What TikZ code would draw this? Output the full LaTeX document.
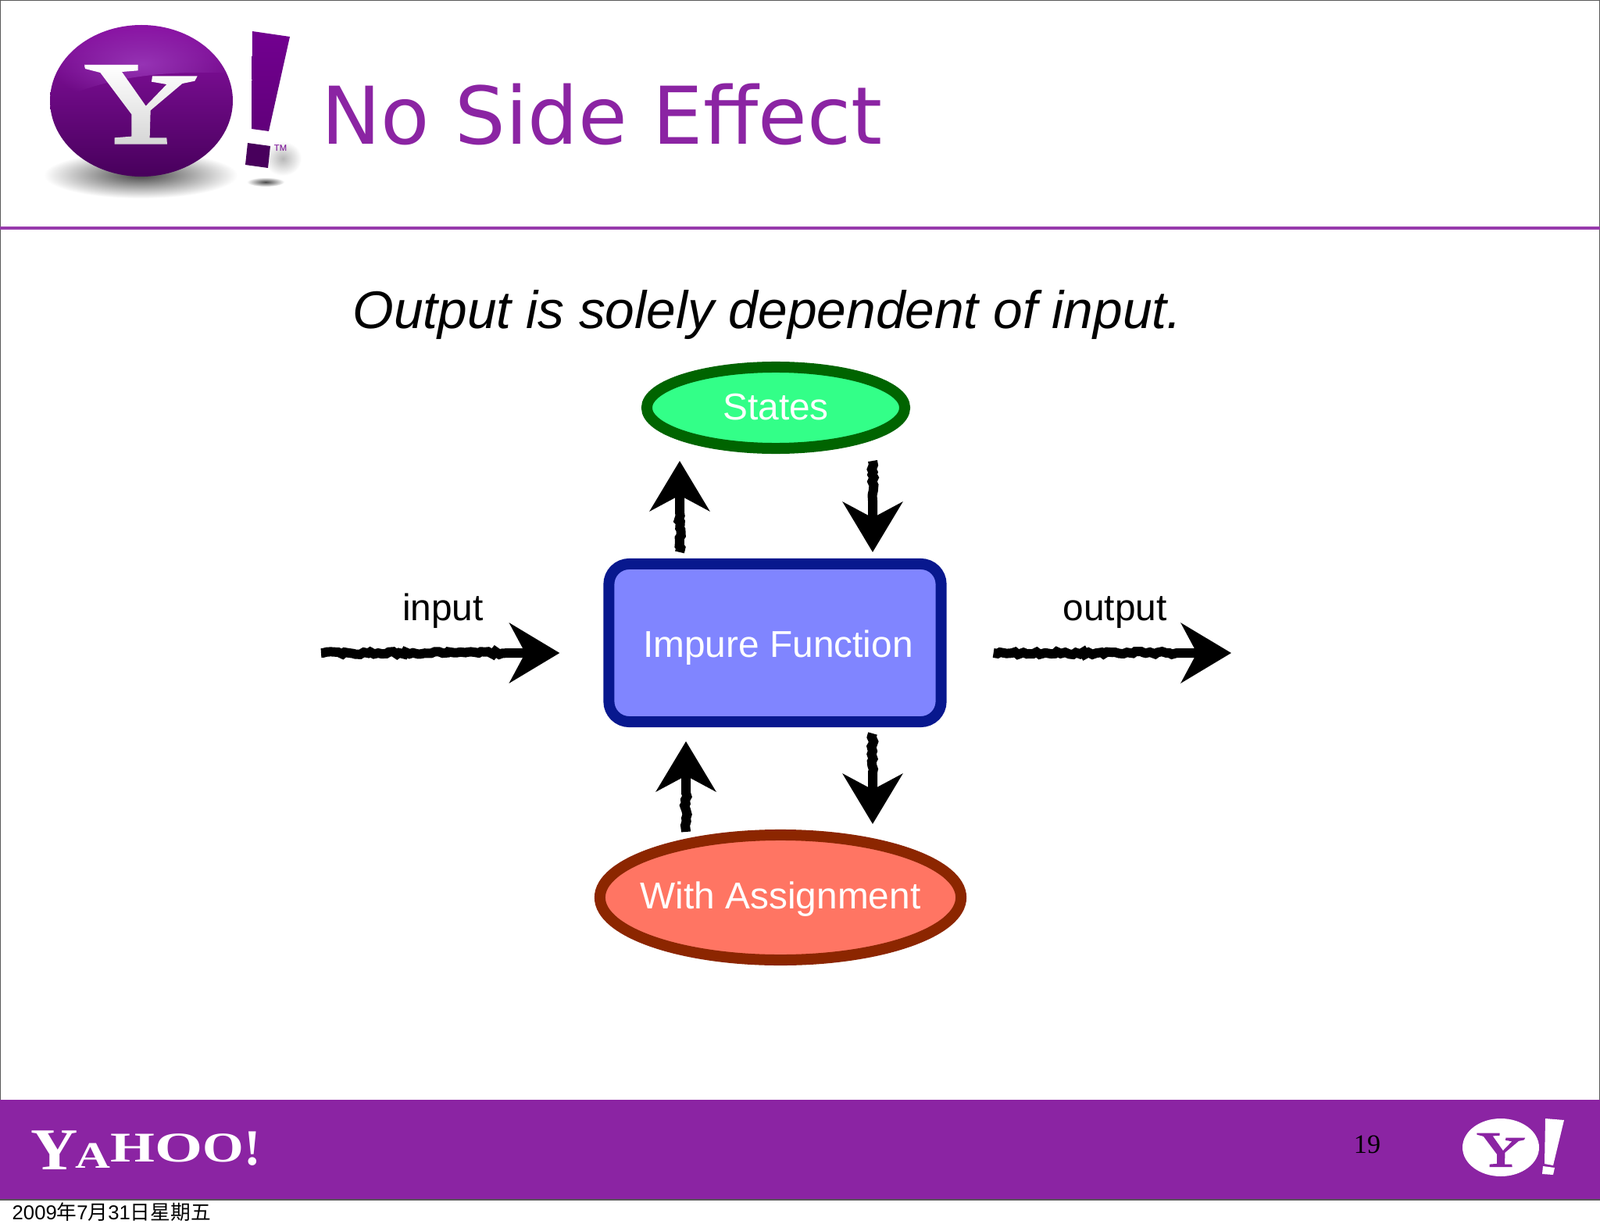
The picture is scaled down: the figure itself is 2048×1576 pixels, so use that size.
\documentclass[tikz,border=0pt]{standalone}
\usepackage{fontspec}
\setmainfont{Liberation Sans}
\newfontfamily\titlefont{DejaVu Sans}
\newfontfamily\seriffont{Liberation Serif}
\newfontfamily\cjk{Noto Sans CJK SC}
\usetikzlibrary{calc}
\usetikzlibrary{shapes.geometric}
\usetikzlibrary{arrows.meta}
\usetikzlibrary{decorations.pathmorphing}
\usetikzlibrary{fadings}
\definecolor{yahoo}{HTML}{8B24A3}
\definecolor{balltop}{HTML}{8A12A4}
\definecolor{ballmid}{HTML}{720090}
\definecolor{ballbottom}{HTML}{48005C}
\definecolor{ballglow}{HTML}{A040C0}
\definecolor{statesfill}{HTML}{33FF88}
\definecolor{statesline}{HTML}{006400}
\definecolor{funcfill}{HTML}{8085FF}
\definecolor{funcline}{HTML}{08188E}
\definecolor{assignfill}{HTML}{FF7563}
\definecolor{assignline}{HTML}{8C2600}
\tikzfading[name=glowfade,inner color=transparent!25,outer color=transparent!100]
\tikzset{
    bodytext/.style={font=\fontsize{13.6}{16}\selectfont},
    boxnode/.style={inner sep=0pt,line width=.14cm,text=white,text height=0pt,text depth=0pt,bodytext},
    roughline/.style={line width=.12cm,-{Stealth[length=.64cm,width=.76cm,inset=.2cm]},
        decorate,decoration={random steps,segment length=1.3pt,amplitude=.55pt,post length=.66cm}},
    shadowblob/.style={shade,inner color=black!72,outer color=white},
}
\newcommand{\yshape}{(-215,-150) -- (-10,-150) -- (-10,-128) -- (-72,-123) -- (20,8) -- (100,-75)
    -- (42,-85) -- (45,-107) -- (218,-107) -- (208,-88) -- (160,-78) -- (38,25) -- (35,130)
    -- (100,130) -- (102,155) -- (-100,155) -- (-100,130) -- (-35,125) -- (-35,40) -- (-155,-120)
    -- (-213,-135) -- cycle}
\newcommand{\wordletter}[4]{\raisebox{#3cm}{\fontsize{#1}{#1}\selectfont\addfontfeature{FakeStretch=#2}#4}}
\newcommand{\boxtext}[3]{\raisebox{#1cm}{\makebox[0pt]{\kern#2cm #3}}}
\begin{document}
\begin{tikzpicture}[x=0.01cm,y=-0.01cm]
            \useasboundingbox (0,0) rectangle (2048,1576);
            \fill[white] (0,0) rectangle (2048,1576);
            \draw[black!65,line width=.02cm] (0,0) rectangle (2048,1536);
            \fill[yahoo] (0,1408) rectangle (2048,1535);
            \fill[yahoo!90!white] (0,290) rectangle (2048,294);

            \shade[shadowblob] (180,224) ellipse (124 and 30);
            \shade[shadowblob] (340,233) ellipse (24 and 6);
            \shade[inner color=black!28,outer color=white] (362,203) ellipse (24 and 22);
            \shade[top color=balltop,middle color=ballmid,bottom color=ballbottom] (181,129) ellipse (117 and 97);
            \begin{scope}
                \clip (181,129) ellipse (117 and 97);
                \fill[ballglow,path fading=glowfade] (64,134) .. controls (115,105) and (185,93) .. (253,93)
                    -- (300,93) -- (300,30) -- (64,30) -- cycle;
            \end{scope}
            \begin{scope}[shift={(180,133)},scale=1/3]
                \shade[top color=white,bottom color=black!16] \yshape;
            \end{scope}
            \shade[top color=ballmid,bottom color=ballmid!85!black] (323,40) -- (371,47) -- (344,168) -- (322,165) -- cycle;
            \fill[ballbottom] (317,183) -- (346,187) -- (343,215) -- (314,211) -- cycle;
            \node[ballmid,font=\fontsize{3.2}{4}\selectfont] (trademark) at (359,190) {TM};
            \node[yahoo,anchor=base west,inner sep=0pt,font=\titlefont\fontsize{29}{32}\selectfont] (title) at (411,185) {No Side Effect};

            \node[anchor=base,inner sep=0pt,font=\itshape\fontsize{19.25}{22}\selectfont] (subtitle) at (982,420) {Output is solely dependent of input.};

            \node[ellipse,boxnode,draw=statesline,fill=statesfill,minimum width=3.30cm,minimum height=1.04cm] (states) at (993,522) {\boxtext{-.15}{0}{States}};
            \node[rectangle,boxnode,rounded corners=.26cm,draw=funcline,fill=funcfill,minimum width=4.25cm,minimum height=2.02cm] (func) at (992,823) {\boxtext{-.185}{.08}{Impure Function}};
            \node[ellipse,boxnode,draw=assignline,fill=assignfill,minimum width=4.62cm,minimum height=1.60cm] (assign) at (999,1149) {\boxtext{-.14}{0}{With Assignment}};

            \coordinate (inputstart) at (411,836);
            \coordinate (outputend) at (1576,836);
            \node[anchor=base,inner sep=0pt,bodytext] (inputlabel) at (567,794) {input};
            \node[anchor=base,inner sep=0pt,bodytext] (outputlabel) at (1427,794) {output};

            \coordinate (upleft) at (870,600);
            \coordinate (downright) at (1117,600);
            \coordinate (lowupleft) at (878,1000);
            \coordinate (lowdownright) at (1117,1000);

            \draw[roughline] (inputstart) -- ($(func.west |- inputstart)+(-56,0)$);
            \draw[roughline] ($(func.east |- outputend)+(60,0)$) -- (outputend);
            \draw[roughline] ($(func.north -| upleft)+(0,-8)$) -- ($(states.south -| upleft)+(0,9)$);
            \draw[roughline] ($(states.south -| downright)+(0,9)$) -- ($(func.north -| downright)+(0,-8)$);
            \draw[roughline] ($(assign.north -| lowupleft)+(0,3)$) -- ($(func.south -| lowupleft)+(0,18)$);
            \draw[roughline] ($(func.south -| lowdownright)+(0,8)$) -- ($(assign.north -| lowdownright)+(0,-7)$);

            \node[anchor=base west,inner sep=0pt,white,font=\seriffont\bfseries] (wordmark) at (39,1497) {\wordletter{21.6}{1.1}{0}{Y}\kern-1pt\wordletter{13.6}{1.3}{.013}{A}\wordletter{15.4}{1.35}{.1}{H}\wordletter{15.4}{1.45}{.1}{O}\wordletter{15.4}{1.25}{.1}{O}\wordletter{18.5}{1}{.06}{!}};
            \node[inner sep=0pt,font=\seriffont\fontsize{9.7}{12}\selectfont] (pagenum) at (1750,1465) {19};

            \fill[white] (1921,1469) ellipse (49 and 37);
            \begin{scope}[shift={(1921,1472)},scale=.143]
                \fill[yahoo] \yshape;
            \end{scope}
            \fill[white] (1978,1432) -- (2002,1434) -- (1988,1492) -- (1977,1490) -- cycle;
            \fill[white] (1975,1493) -- (1990,1495) -- (1988,1504) -- (1974,1503) -- cycle;

            \node[anchor=base west,inner sep=0pt,font=\fontsize{7.3}{10}\selectfont] (datestamp) at (15,1561) {2009{\cjk 年}7{\cjk 月}31{\cjk 日星期五}};
        \end{tikzpicture}
\end{document}
